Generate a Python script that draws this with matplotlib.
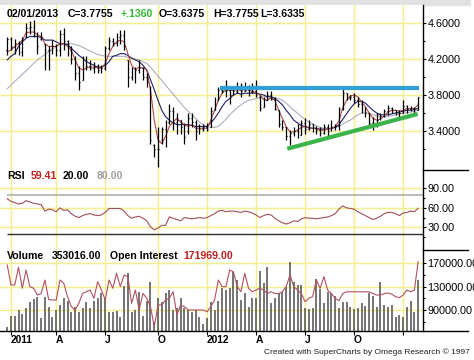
import matplotlib
matplotlib.use('Agg')
import matplotlib.pyplot as plt
import matplotlib.dates as mdates
import pandas as pd
from matplotlib.lines import Line2D
from matplotlib.patches import Rectangle

plt.rcParams['font.family'] = ['Liberation Sans', 'DejaVu Sans']

# ---------------- data (weekly bars) ----------------
dates = pd.date_range('2010-12-31', periods=110, freq='W-FRI')

opens = [4.30, 4.42, 4.33, 4.38, 4.28, 4.45, 4.55, 4.56, 4.48, 4.42,
         4.37, 4.30, 4.30, 4.35, 4.30, 4.48, 4.40, 4.30, 4.20, 4.05,
         3.97, 4.10, 4.12, 4.10, 4.12, 4.08, 4.10, 4.32, 4.40, 4.38,
         4.45, 4.47, 4.19, 4.00, 4.05, 4.08, 4.10, 4.00, 3.90, 3.24,
         3.20, 3.30, 3.42, 3.50, 3.62, 3.50, 3.52, 3.45, 3.40, 3.55,
         3.50, 3.40, 3.42, 3.45, 3.45, 3.63, 3.74, 3.86, 3.84, 3.86,
         3.80, 3.85, 3.88, 3.84, 3.86, 3.83, 3.85, 3.78, 3.67, 3.74,
         3.80, 3.76, 3.63, 3.48, 3.45, 3.34, 3.38, 3.40, 3.36, 3.49,
         3.42, 3.48, 3.43, 3.41, 3.38, 3.45, 3.40, 3.45, 3.46, 3.64,
         3.82, 3.77, 3.78, 3.75, 3.70, 3.64, 3.60, 3.49, 3.48, 3.52,
         3.57, 3.62, 3.66, 3.63, 3.60, 3.60, 3.68, 3.65, 3.66, 3.6375]
highs = [4.45, 4.44, 4.42, 4.40, 4.45, 4.60, 4.62, 4.63, 4.50, 4.50,
         4.37, 4.34, 4.41, 4.37, 4.52, 4.54, 4.41, 4.34, 4.23, 4.12,
         4.23, 4.23, 4.19, 4.17, 4.15, 4.13, 4.34, 4.45, 4.43, 4.49,
         4.52, 4.52, 4.19, 4.11, 4.11, 4.19, 4.11, 4.04, 3.90, 3.26,
         3.45, 3.45, 3.52, 3.70, 3.67, 3.60, 3.52, 3.49, 3.60, 3.60,
         3.52, 3.48, 3.48, 3.49, 3.67, 3.78, 3.89, 3.89, 3.97, 3.89,
         3.90, 3.95, 3.93, 3.95, 3.91, 3.93, 3.97, 3.80, 3.78, 3.84,
         3.84, 3.78, 3.63, 3.52, 3.45, 3.41, 3.45, 3.48, 3.52, 3.55,
         3.52, 3.48, 3.46, 3.45, 3.48, 3.48, 3.52, 3.48, 3.67, 3.87,
         3.82, 3.80, 3.82, 3.78, 3.74, 3.67, 3.60, 3.56, 3.60, 3.60,
         3.65, 3.69, 3.67, 3.63, 3.63, 3.74, 3.69, 3.68, 3.67, 3.7755]
lows = [4.25, 4.30, 4.26, 4.24, 4.23, 4.45, 4.48, 4.44, 4.26, 4.41,
        4.08, 4.08, 4.26, 4.23, 4.23, 4.30, 4.23, 4.15, 3.97, 3.86,
        3.97, 4.08, 4.08, 4.04, 4.04, 4.04, 4.08, 4.30, 4.34, 4.34,
        4.37, 4.30, 3.89, 3.97, 3.93, 4.04, 3.97, 3.89, 3.26, 3.11,
        3.00, 3.26, 3.22, 3.48, 3.41, 3.37, 3.37, 3.26, 3.37, 3.45,
        3.30, 3.37, 3.40, 3.40, 3.45, 3.63, 3.74, 3.82, 3.78, 3.70,
        3.80, 3.82, 3.78, 3.84, 3.79, 3.82, 3.78, 3.62, 3.67, 3.74,
        3.74, 3.63, 3.45, 3.41, 3.30, 3.25, 3.34, 3.32, 3.36, 3.37,
        3.41, 3.39, 3.37, 3.34, 3.37, 3.35, 3.40, 3.41, 3.41, 3.63,
        3.74, 3.74, 3.71, 3.67, 3.60, 3.56, 3.45, 3.41, 3.45, 3.52,
        3.56, 3.58, 3.60, 3.58, 3.56, 3.60, 3.60, 3.62, 3.60, 3.6335]
closes = [4.42, 4.33, 4.38, 4.28, 4.42, 4.55, 4.56, 4.48, 4.35, 4.44,
          4.30, 4.30, 4.35, 4.30, 4.48, 4.40, 4.30, 4.20, 4.05, 3.95,
          4.10, 4.12, 4.10, 4.12, 4.08, 4.10, 4.32, 4.40, 4.38, 4.45,
          4.47, 4.35, 4.00, 4.05, 4.08, 4.10, 4.00, 3.95, 3.30, 3.20,
          3.20, 3.42, 3.45, 3.62, 3.50, 3.52, 3.45, 3.33, 3.55, 3.50,
          3.40, 3.42, 3.45, 3.42, 3.62, 3.72, 3.86, 3.84, 3.86, 3.80,
          3.85, 3.88, 3.84, 3.86, 3.83, 3.85, 3.80, 3.66, 3.74, 3.80,
          3.76, 3.65, 3.48, 3.45, 3.34, 3.38, 3.40, 3.36, 3.49, 3.42,
          3.48, 3.43, 3.41, 3.38, 3.45, 3.40, 3.45, 3.46, 3.64, 3.82,
          3.77, 3.78, 3.75, 3.70, 3.64, 3.60, 3.49, 3.48, 3.52, 3.57,
          3.62, 3.66, 3.63, 3.60, 3.60, 3.68, 3.65, 3.66, 3.6395, 3.7755]

ma_fast = [4.28, 4.30, 4.34, 4.37, 4.41, 4.49, 4.50, 4.50, 4.47, 4.45,
           4.37, 4.34, 4.34, 4.34, 4.37, 4.37, 4.34, 4.30, 4.19, 4.10,
           4.08, 4.10, 4.11, 4.11, 4.10, 4.10, 4.15, 4.26, 4.34, 4.39,
           4.41, 4.39, 4.26, 4.13, 4.08, 4.11, 4.10, 4.08, 3.86, 3.52,
           3.30, 3.26, 3.34, 3.45, 3.50, 3.54, 3.50, 3.47, 3.45, 3.47,
           3.43, 3.43, 3.43, 3.43, 3.52, 3.63, 3.74, 3.82, 3.86, 3.85,
           3.85, 3.86, 3.85, 3.86, 3.86, 3.84, 3.83, 3.80, 3.75, 3.74,
           3.77, 3.74, 3.63, 3.54, 3.45, 3.39, 3.39, 3.41, 3.44, 3.45,
           3.43, 3.43, 3.43, 3.41, 3.41, 3.42, 3.43, 3.45, 3.51, 3.66,
           3.74, 3.79, 3.80, 3.78, 3.72, 3.67, 3.60, 3.54, 3.52, 3.53,
           3.57, 3.61, 3.63, 3.63, 3.62, 3.63, 3.65, 3.65, 3.65, 3.69]
ma_mid = [4.19, 4.23, 4.26, 4.34, 4.39, 4.43, 4.45, 4.45, 4.45, 4.44,
          4.41, 4.41, 4.41, 4.39, 4.37, 4.37, 4.36, 4.32, 4.28, 4.24,
          4.21, 4.17, 4.15, 4.13, 4.11, 4.11, 4.13, 4.17, 4.23, 4.24,
          4.26, 4.26, 4.24, 4.21, 4.19, 4.17, 4.13, 4.08, 3.97, 3.86,
          3.74, 3.63, 3.56, 3.52, 3.49, 3.47, 3.47, 3.47, 3.47, 3.46,
          3.45, 3.45, 3.45, 3.45, 3.49, 3.54, 3.60, 3.67, 3.73, 3.76,
          3.80, 3.82, 3.81, 3.82, 3.82, 3.82, 3.82, 3.81, 3.80, 3.78,
          3.78, 3.76, 3.73, 3.69, 3.63, 3.58, 3.52, 3.49, 3.46, 3.45,
          3.44, 3.43, 3.43, 3.42, 3.42, 3.42, 3.43, 3.44, 3.47, 3.53,
          3.59, 3.65, 3.70, 3.73, 3.73, 3.71, 3.67, 3.63, 3.60, 3.58,
          3.58, 3.58, 3.59, 3.60, 3.61, 3.62, 3.63, 3.63, 3.64, 3.65]
ma_slow = [3.87, 3.91, 3.95, 3.99, 4.03, 4.07, 4.11, 4.15, 4.19, 4.22,
           4.25, 4.28, 4.31, 4.34, 4.36, 4.37, 4.37, 4.37, 4.36, 4.35,
           4.33, 4.31, 4.29, 4.27, 4.25, 4.24, 4.23, 4.23, 4.23, 4.23,
           4.23, 4.23, 4.22, 4.21, 4.20, 4.19, 4.17, 4.15, 4.11, 4.06,
           4.01, 3.96, 3.91, 3.86, 3.81, 3.76, 3.71, 3.66, 3.62, 3.58,
           3.54, 3.50, 3.47, 3.45, 3.44, 3.44, 3.45, 3.49, 3.53, 3.58,
           3.62, 3.66, 3.69, 3.72, 3.74, 3.75, 3.76, 3.77, 3.78, 3.78,
           3.78, 3.77, 3.76, 3.74, 3.71, 3.67, 3.63, 3.60, 3.56, 3.53,
           3.50, 3.48, 3.46, 3.44, 3.43, 3.43, 3.43, 3.44, 3.45, 3.48,
           3.50, 3.52, 3.55, 3.58, 3.60, 3.60, 3.60, 3.58, 3.57, 3.56,
           3.56, 3.56, 3.57, 3.58, 3.59, 3.60, 3.60, 3.61, 3.62, 3.63]

rsi = [74, 70, 68, 66, 67, 71, 69, 67, 66, 65,
       55, 58, 57, 54, 60, 56, 57, 51, 47, 45,
       48, 50, 51, 49, 48, 49, 53, 59, 59, 59,
       59, 55, 48, 44, 46, 47, 44, 40, 31, 26,
       29, 33, 33, 46, 44, 42, 40, 45, 44, 43,
       44, 45, 44, 45, 48, 51, 55, 56, 54, 55,
       55, 54, 53, 55, 54, 52, 49, 45, 48, 50,
       49, 44, 40, 37, 35, 37, 40, 39, 43, 45,
       44, 44, 43, 44, 45, 46, 48, 51, 58, 63,
       60, 59, 58, 54, 51, 48, 45, 42, 44, 47,
       51, 53, 53, 51, 48, 52, 53, 55, 54, 59.41]

volume = [28000, 104000, 104000, 145000, 118000, 157000, 203000, 219000, 233000, 88000,
          233000, 168000, 95000, 145000, 180000, 226000, 210000, 134000, 168000, 134000,
          157000, 203000, 157000, 205000, 226000, 261000, 226000, 134000, 134000, 140000,
          95000, 311000, 399000, 134000, 145000, 272000, 104000, 205000, 341000, 60000,
          226000, 203000, 261000, 284000, 145000, 157000, 226000, 157000, 145000, 134000,
          145000, 97000, 48000, 88000, 203000, 145000, 210000, 295000, 284000, 295000,
          410000, 353000, 215000, 261000, 168000, 226000, 226000, 417000, 330000, 445000,
          191000, 226000, 261000, 272000, 307000, 480000, 341000, 318000, 318000, 157000,
          150000, 157000, 358000, 290000, 191000, 272000, 261000, 244000, 157000, 203000,
          203000, 168000, 150000, 157000, 191000, 173000, 261000, 244000, 168000, 341000,
          180000, 168000, 180000, 99000, 110000, 99000, 168000, 210000, 134000, 353016]

open_interest = [166600, 132600, 132600, 162700, 127000, 158000, 129700, 127000, 115500, 118300,
                 141000, 108000, 107000, 107000, 141000, 135500, 112600, 95600, 90000, 101400,
                 118300, 121200, 124000, 110000, 138300, 124000, 107000, 141000, 127000, 152500,
                 129700, 149600, 146800, 101400, 124000, 90000, 118300, 110000, 95600, 61600,
                 98500, 98500, 107000, 110000, 121200, 81500, 98500, 95600, 90000, 90000,
                 90000, 90000, 90000, 87000, 95600, 107000, 141000, 129700, 129700, 158000,
                 155000, 130000, 121000, 152500, 127000, 121000, 124000, 127000, 124000, 118000,
                 121000, 118000, 118000, 121000, 130000, 149600, 130000, 124000, 118000, 104000,
                 110000, 112600, 141000, 127000, 146800, 124000, 118000, 110000, 105800, 118000,
                 121000, 121000, 121000, 121000, 121000, 121000, 121000, 118000, 115500, 115500,
                 118000, 119000, 117000, 112600, 111000, 115500, 124000, 121000, 124000, 171969]

# hand-drawn trend lines (date, price)
resistance_dates = ['2012-01-30', '2013-02-03']
resistance_prices = [3.875, 3.875]
support_dates = ['2012-06-03', '2013-01-31']
support_prices = [3.203, 3.589]

quarter_dates = ['2011-01-07', '2011-04-01', '2011-07-01', '2011-10-07', '2012-01-06',
                 '2012-04-06', '2012-07-06', '2012-10-05', '2013-01-04']
quarter_labels = ['2011', 'A', 'J', 'O', '2012', 'A', 'J', 'O', '']

# ---------------- figure ----------------
W, H = 474, 360
fig = plt.figure(figsize=(W / 100, H / 100), dpi=100)
fig.patch.set_facecolor('white')

def fy(y):
    return 1 - y / H

xd = mdates.date2num(dates)
qd = mdates.date2num(pd.to_datetime(quarter_dates))
XL = (xd[0] - 13.4, xd[0] + 772.0)
YEL = '#f3ef8a'
AXW = 423 / W

def base_axes(rect, ylim):
    ax = fig.add_axes(rect)
    ax.set_xlim(*XL)
    ax.set_ylim(*ylim)
    for s in ['left', 'top', 'bottom']:
        ax.spines[s].set_visible(False)
    ax.spines['right'].set_linewidth(1.0)
    ax.spines['right'].set_color('black')
    ax.yaxis.tick_right()
    ax.tick_params(axis='y', direction='out', length=2.2, width=0.8, pad=1,
                   labelsize=7.8, colors='black')
    ax.tick_params(axis='y', which='minor', direction='out', length=1.6, width=0.8)
    ax.set_xticks([])
    for q in qd:
        ax.axvline(q, color=YEL, lw=1.0, zorder=0)
    return ax

# price panel
ax_p = base_axes([0, fy(170), AXW, 165 / H], (2.9667, 4.8))
ptk = [4.6, 4.2, 3.8, 3.4]
ax_p.set_yticks(ptk)
ax_p.set_yticklabels(['%.4f' % v for v in ptk])
ax_p.set_yticks([4.4, 4.0, 3.6, 3.2], minor=True)
for v in ptk:
    ax_p.axhline(v, color=YEL, lw=1.0, zorder=0)

ax_p.plot(xd, ma_slow, color='#aeaebe', lw=0.8, zorder=2)
ax_p.plot(xd, ma_mid, color='#1e1e6a', lw=0.8, zorder=2)
ax_p.plot(xd, ma_fast, color='#b04848', lw=0.8, zorder=2)
ax_p.vlines(xd, lows, highs, color='black', lw=0.9, zorder=3)
ax_p.hlines(opens, xd - 1.6, xd, color='black', lw=0.9, zorder=3)
ax_p.hlines(closes, xd, xd + 1.6, color='black', lw=0.9, zorder=3)
ax_p.plot(mdates.date2num(pd.to_datetime(resistance_dates)), resistance_prices,
          color='#2f9fd6', lw=3.0, solid_capstyle='butt', zorder=4)
ax_p.plot(mdates.date2num(pd.to_datetime(support_dates)), support_prices,
          color='#3cb44b', lw=3.0, solid_capstyle='butt', zorder=4)

# RSI panel
ax_r = base_axes([0, fy(250), AXW, 80 / H], (-4.9, 118.2))
rtk = [90, 60, 30]
ax_r.set_yticks(rtk)
ax_r.set_yticklabels(['%.2f' % v for v in rtk])
ax_r.set_yticks([75, 45, 15], minor=True)
for v in rtk:
    ax_r.axhline(v, color=YEL, lw=1.0, zorder=0)
ax_r.hlines([80], xd[0], XL[1], color='#a8a8a8', lw=1.1, zorder=1)
ax_r.hlines([20], xd[0], XL[1], color='#303030', lw=1.0, zorder=1)
ax_r.plot(xd, rsi, color='#a05058', lw=0.8, zorder=2)

# volume / open interest panel
vlim = (54255, 192128)
ax_v = base_axes([0, fy(331), AXW, 81 / H], vlim)
vtk = [170000, 130000, 90000]
ax_v.set_yticks(vtk)
ax_v.set_yticklabels(['%.2f' % v for v in vtk])
ax_v.set_yticks([150000, 110000, 70000], minor=True)
for v in vtk:
    ax_v.axhline(v, color=YEL, lw=1.0, zorder=0)
ax_v.set_xticks(qd)
ax_v.set_xticklabels(quarter_labels, ha='left', fontweight='bold', fontsize=7.4)
ax_v.tick_params(axis='x', direction='out', length=3, width=0.8, pad=0)

ax_vb = fig.add_axes([0, fy(331), AXW, 81 / H])
ax_vb.set_xlim(*XL)
ax_vb.set_ylim(0, 560682)
ax_vb.patch.set_alpha(0)
ax_vb.axis('off')
ax_vb.vlines(xd, 0, volume, color='#4e4e4e', lw=1.1)

ax_oi = fig.add_axes([0, fy(331), AXW, 81 / H])
ax_oi.set_xlim(*XL)
ax_oi.set_ylim(*vlim)
ax_oi.patch.set_alpha(0)
ax_oi.axis('off')
ax_oi.plot(xd, open_interest, color='#b05262', lw=0.8)

# frame lines outside the axes
for (xa, xb, y) in [(0, 468, 331), (423, 468, 170), (423, 468, 250)]:
    fig.add_artist(Line2D([xa / W, xb / W], [fy(y), fy(y)], color='black', lw=1.0,
                          transform=fig.transFigure))
fig.add_artist(Rectangle((0, fy(5)), 470 / W, 5 / H, color='#e2e2e2',
                         transform=fig.transFigure, zorder=0))

# header texts
def T(x, y, s, color='black', size=7.6, weight='bold', ha='left'):
    fig.text(x / W, fy(y), s, color=color, fontsize=size, fontweight=weight,
             ha=ha, va='center')

T(7, 14, '02/01/2013')
T(68, 14, 'C=3.7755')
T(120, 14, '+.1360', color='#33bb33')
T(159, 14, 'O=3.6375')
T(213, 14, 'H=3.7755')
T(260, 14, 'L=3.6335')

T(7, 176, 'RSI')
T(31, 176, '59.41', color='#c02020')
T(63, 176, '20.00')
T(97, 176, '80.00', color='#a0a0a0')

T(7, 256, 'Volume')
T(52, 256, '353016.00')
T(110, 256, 'Open Interest')
T(183, 256, '171969.00', color='#c02020')

T(470, 352, 'Created with SuperCharts by Omega Research \u00a9 1997', size=6.0,
  weight='normal', ha='right', color='#202020')

fig.savefig('out.png', dpi=100)
